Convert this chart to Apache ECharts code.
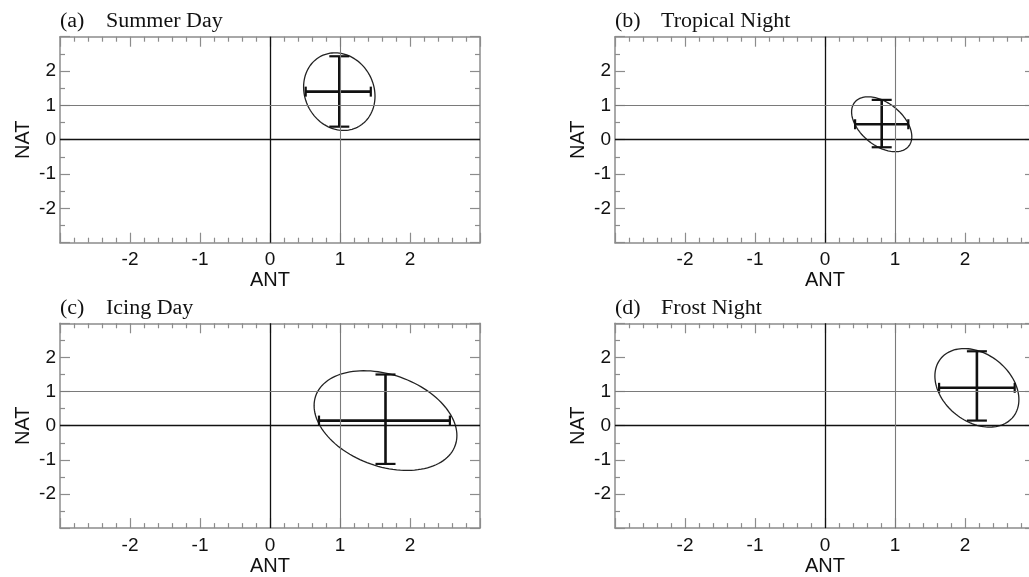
<!DOCTYPE html>
<html>
<head>
<meta charset="utf-8">
<script src="https://cdn.jsdelivr.net/npm/echarts@6/dist/echarts.min.js"></script>
<style>
    html, body { margin: 0; padding: 0; background: #fff; overflow: hidden; }
    /* a bit wider than the window: the right-hand panels run past the edge */
    #chart { width: 1044px; height: 577px; }
</style>
</head>
<body>
<div id="chart"></div>
<script>
// panel labels
const panelTags = ['(a)', '(b)', '(c)', '(d)']
const panelNames = ['Summer Day', 'Tropical Night', 'Icing Day', 'Frost Night']

// best estimates and ranges of the scaling factors
const antBest = [0.99, 0.81, 1.65, 2.17]
const antLow = [0.51, 0.43, 0.70, 1.63]
const antHigh = [1.44, 1.19, 2.57, 2.71]
const natBest = [1.40, 0.45, 0.15, 1.11]
const natLow = [0.38, -0.22, -1.12, 0.15]
const natHigh = [2.43, 1.16, 1.50, 2.18]

// confidence ellipses: half widths along ANT / NAT and their correlation
const ellAnt = [0.51, 0.43, 1.02, 0.60]
const ellNat = [1.13, 0.80, 1.46, 1.15]
const ellCorr = [-0.12, -0.45, -0.30, -0.30]

// reference lines
const zeroLines = [0]
const unitLines = [1]
const tickLabels = [-2, -1, 0, 1, 2]

const chart = echarts.init(document.getElementById('chart'))

const gridLeft = [60, 615, 60, 615]
const gridTop = [36.7, 36.7, 323.3, 323.3]
const boxColor = '#8c8c8c'
const labelFont = '"Liberation Sans", Arial, sans-serif'

function tickFormatter(v) {
    return tickLabels.includes(v) ? String(v) : ''
}

function baseAxis(i, extra) {
    return Object.assign({
        gridIndex: i,
        type: 'value',
        min: -3,
        max: 3,
        interval: 1,
        splitLine: { show: false },
        axisLine: { show: true, onZero: false, lineStyle: { color: boxColor, width: 1.5 } },
        axisTick: { show: true, inside: true, length: 10, lineStyle: { color: boxColor, width: 1.2 } },
        minorTick: { show: true, length: 5, lineStyle: { color: boxColor, width: 1.2 } },
        minorSplitLine: { show: false }
    }, extra)
}

const xAxes = []
const yAxes = []
const grids = []
const series = []
const graphics = []

for (let i = 0; i < 4; i++) {
    grids.push({ left: gridLeft[i], top: gridTop[i], width: 420, height: 206 })

    xAxes.push(baseAxis(i, {
        position: 'bottom',
        minorTick: { show: true, splitNumber: 5, length: 5, lineStyle: { color: boxColor, width: 1.2 } },
        axisLabel: { formatter: tickFormatter, fontSize: 19, color: '#111', fontFamily: labelFont, margin: 8 },
        name: 'ANT',
        nameLocation: 'middle',
        nameGap: 25,
        nameTextStyle: { fontSize: 20, color: '#111', fontFamily: labelFont }
    }))
    xAxes.push(baseAxis(i, {
        position: 'top',
        minorTick: { show: true, splitNumber: 5, length: 5, lineStyle: { color: boxColor, width: 1.2 } },
        axisLabel: { show: false }
    }))
    yAxes.push(baseAxis(i, {
        position: 'left',
        minorTick: { show: true, splitNumber: 2, length: 5, lineStyle: { color: boxColor, width: 1.2 } },
        axisLabel: { formatter: tickFormatter, fontSize: 19, color: '#111', fontFamily: labelFont, margin: 4 },
        name: 'NAT',
        nameLocation: 'middle',
        nameGap: 27,
        nameTextStyle: { fontSize: 20, color: '#111', fontFamily: labelFont }
    }))
    yAxes.push(baseAxis(i, {
        position: 'right',
        minorTick: { show: true, splitNumber: 2, length: 5, lineStyle: { color: boxColor, width: 1.2 } },
        axisLabel: { show: false }
    }))

    const refData = []
    zeroLines.forEach(v => {
        refData.push({ xAxis: v, lineStyle: { color: '#111', width: 1.3 } })
        refData.push({ yAxis: v, lineStyle: { color: '#111', width: 1.3 } })
    })
    unitLines.forEach(v => {
        refData.push({ xAxis: v, lineStyle: { color: '#7a7a7a', width: 1.1 } })
        refData.push({ yAxis: v, lineStyle: { color: '#7a7a7a', width: 1.1 } })
    })

    series.push({
        type: 'custom',
        xAxisIndex: i * 2,
        yAxisIndex: i * 2,
        encode: { x: [0, 2, 3], y: [1, 4, 5] },
        data: [[antBest[i], natBest[i], antLow[i], antHigh[i], natLow[i], natHigh[i], ellAnt[i], ellNat[i], ellCorr[i]]],
        renderItem: renderPanel,
        silent: true,
        z: 3,
        markLine: {
            silent: true,
            symbol: 'none',
            label: { show: false },
            lineStyle: { type: 'solid' },
            data: refData
        }
    })

    graphics.push({
        type: 'text',
        x: gridLeft[i],
        y: gridTop[i] - 15,
        scaleX: 1.1,
        style: { text: panelTags[i], font: '20px "Liberation Serif", "Times New Roman", serif', fill: '#111', verticalAlign: 'middle' }
    })
    graphics.push({
        type: 'text',
        x: gridLeft[i] + 46,
        y: gridTop[i] - 15,
        scaleX: 1.1,
        style: { text: panelNames[i], font: '20px "Liberation Serif", "Times New Roman", serif', fill: '#111', verticalAlign: 'middle' }
    })
}

function renderPanel(params, api) {
    const bx = api.value(0)
    const by = api.value(1)
    const rx = api.value(6)
    const ry = api.value(7)
    const rho = api.value(8)
    const s = Math.sqrt(1 - rho * rho)

    const pts = []
    for (let k = 0; k < 120; k++) {
        const t = 2 * Math.PI * k / 120
        pts.push(api.coord([bx + rx * Math.cos(t), by + ry * (rho * Math.cos(t) + s * Math.sin(t))]))
    }

    const l = api.coord([api.value(2), by])
    const r = api.coord([api.value(3), by])
    const b = api.coord([bx, api.value(4)])
    const t = api.coord([bx, api.value(5)])
    const barStyle = { stroke: '#111', lineWidth: 2.6 }
    const capStyle = { stroke: '#111', lineWidth: 2.2 }

    return {
        type: 'group',
        children: [
            { type: 'polygon', shape: { points: pts }, style: { fill: 'none', stroke: '#222', lineWidth: 1.3 } },
            { type: 'line', shape: { x1: l[0], y1: l[1], x2: r[0], y2: r[1] }, style: barStyle },
            { type: 'line', shape: { x1: b[0], y1: b[1], x2: t[0], y2: t[1] }, style: barStyle },
            { type: 'line', shape: { x1: l[0], y1: l[1] - 5, x2: l[0], y2: l[1] + 5 }, style: capStyle },
            { type: 'line', shape: { x1: r[0], y1: r[1] - 5, x2: r[0], y2: r[1] + 5 }, style: capStyle },
            { type: 'line', shape: { x1: b[0] - 10, y1: b[1], x2: b[0] + 10, y2: b[1] }, style: capStyle },
            { type: 'line', shape: { x1: t[0] - 10, y1: t[1], x2: t[0] + 10, y2: t[1] }, style: capStyle }
        ]
    }
}

chart.setOption({
    animation: false,
    backgroundColor: '#fff',
    grid: grids,
    xAxis: xAxes,
    yAxis: yAxes,
    series: series,
    graphic: graphics
})

window.addEventListener('resize', () => chart.resize())
</script>
</body>
</html>
